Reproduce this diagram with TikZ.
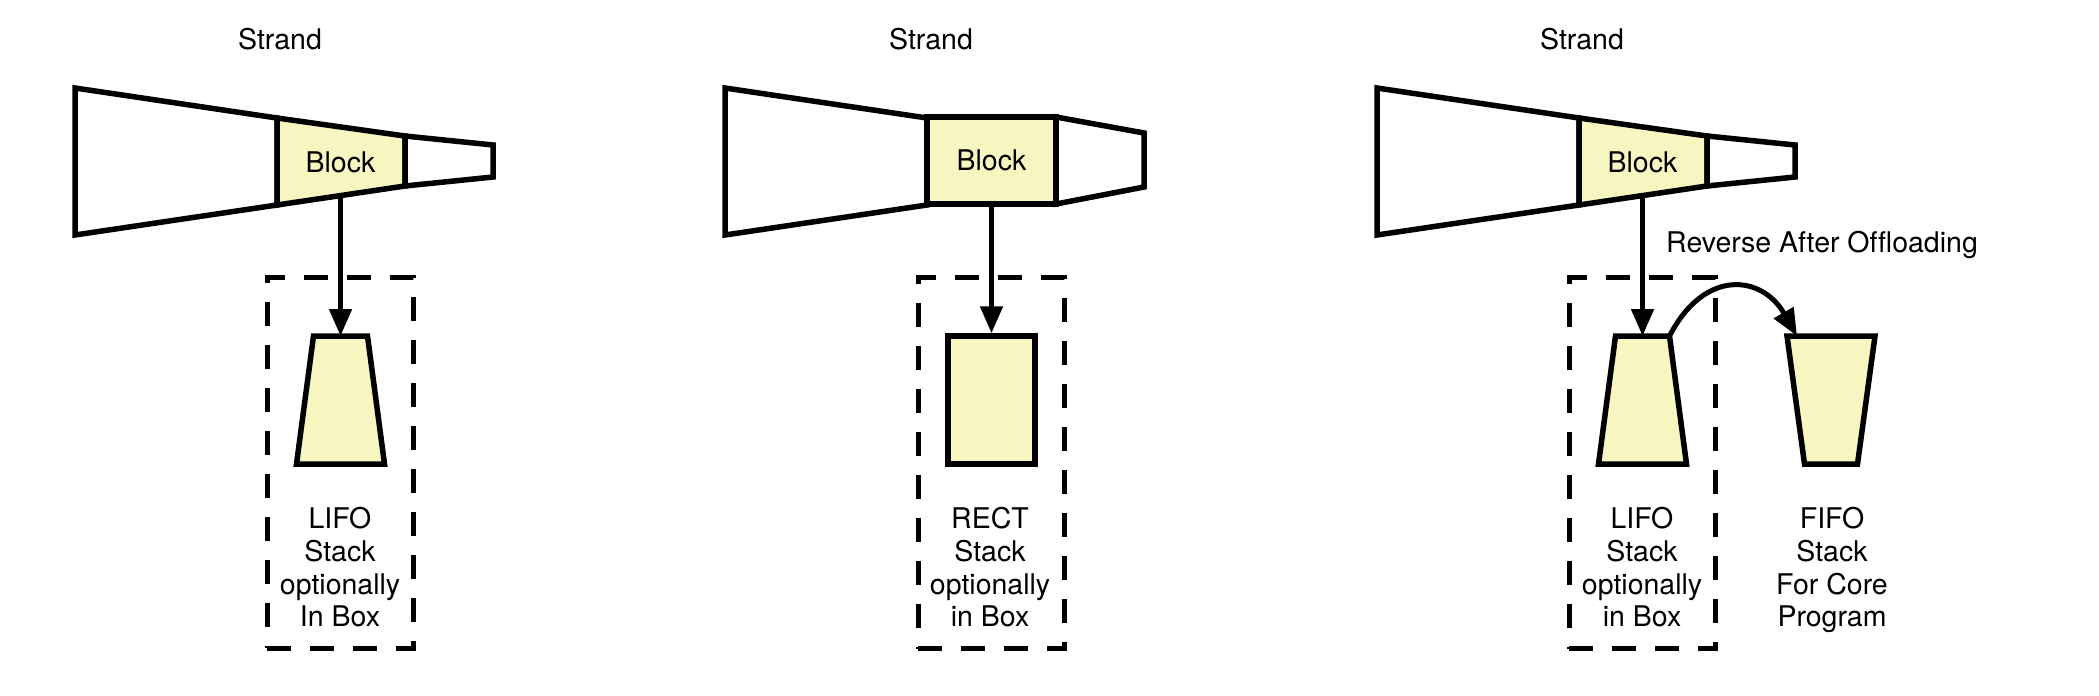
\documentclass[tikz,border=0pt]{standalone}
\usepackage{fontspec}
\setmainfont{TeX Gyre Heros}[Ligatures=NoCommon]
\usetikzlibrary{arrows.meta}
\definecolor{paleyellow}{RGB}{247,245,192}
\pgfdeclarelayer{behind}
\pgfsetlayers{behind,main}
\begin{document}
\begin{tikzpicture}[x=1pt,y=-1pt,
  shp/.style={line width=5.5pt, draw=black},
  yel/.style={shp, fill=paleyellow},
  wht/.style={shp, fill=white},
  dashbox/.style={draw=black, line width=5pt, dash pattern=on 24pt off 19pt,
    minimum width=146pt, minimum height=371pt, inner sep=0pt},
  slot/.style={inner sep=0pt, outer sep=0pt, minimum width=88pt, minimum height=128pt},
  arr/.style={line width=5pt, -{Triangle[length=27pt,width=22pt]}},
  lbl/.style={font=\fontsize{28.5pt}{32.6pt}\selectfont, inner sep=0pt},
  multi/.style={lbl, align=center, anchor=north}]
\useasboundingbox (0,0) rectangle (2099,696);

% ---------- Panel 1 ----------
\node[lbl, anchor=base] (s1) at (280,49) {Strand};
\draw[wht] (75,88) -- (277,118) -- (277,205) -- (75,235) -- cycle;
\draw[yel] (277,118) -- (405,136) -- (405,186) -- (277,205) -- cycle;
\draw[wht] (405,136) -- (493,145) -- (493,177) -- (405,186) -- cycle;
\node[lbl, anchor=base] (b1) at (340.5,172) {Block};
\node[dashbox] (box1) at (340,462.5) {};
\node[slot] (lifo1) at (340.5,400) {};
\draw[yel] ([xshift=-27pt]lifo1.north) -- ([xshift=27pt]lifo1.north)
  -- (lifo1.south east) -- (lifo1.south west) -- cycle;
\node[multi] (t1) at (340,507.5) {LIFO\\Stack\\optionally\\In Box};

% ---------- Panel 2 ----------
\node[lbl, anchor=base] (s2) at (931,49) {Strand};
\draw[wht] (725,88) -- (927,118) -- (927,205) -- (725,235) -- cycle;
\draw[wht] (1056,117) -- (1144,133) -- (1144,187) -- (1056,204) -- cycle;
\node[yel, lbl, minimum width=129pt, minimum height=87pt] (b2) at (991.5,160.5) {Block};
\node[dashbox] (box2) at (991,463) {};
\node[yel, minimum width=87pt, minimum height=128pt, inner sep=0pt] (rect2) at (991.5,400) {};
\node[multi] (t2) at (990,507.5) {RECT\\Stack\\optionally\\in Box};

% ---------- Panel 3 ----------
\node[lbl, anchor=base] (s3) at (1582,49) {Strand};
\draw[wht] (1377,88) -- (1579,118) -- (1579,205) -- (1377,235) -- cycle;
\draw[yel] (1579,118) -- (1707,136) -- (1707,186) -- (1579,205) -- cycle;
\draw[wht] (1707,136) -- (1795,145) -- (1795,177) -- (1707,186) -- cycle;
\node[lbl, anchor=base] (b3) at (1642.5,172) {Block};
\node[dashbox] (box3) at (1642,463) {};
\node[slot] (lifo3) at (1642.5,400) {};
\draw[yel] ([xshift=-27pt]lifo3.north) -- ([xshift=27pt]lifo3.north)
  -- (lifo3.south east) -- (lifo3.south west) -- cycle;
\node[multi] (t3) at (1642,507.5) {LIFO\\Stack\\optionally\\in Box};
\node[slot] (fifo) at (1831,400) {};
\draw[yel] (fifo.north west) -- (fifo.north east)
  -- ([xshift=-17.5pt]fifo.south east) -- ([xshift=17.5pt]fifo.south west) -- cycle;
\node[multi] (t4) at (1832,507.5) {FIFO\\Stack\\For Core\\Program};
\node[lbl, anchor=base] (rev) at (1822,252) {Reverse After Offloading};

% ---------- Connectors ----------
\begin{pgfonlayer}{behind}
\draw[arr] (b1.center) -- (lifo1.north);
\draw[arr] (b2.center) -- (rect2.north);
\draw[arr] (b3.center) -- (lifo3.north);
\draw[arr] ([xshift=27pt]lifo3.north) .. controls +(35,-68) and +(-35,-61) .. ([xshift=-34pt]fifo.north);
\end{pgfonlayer}
\end{tikzpicture}
\end{document}
